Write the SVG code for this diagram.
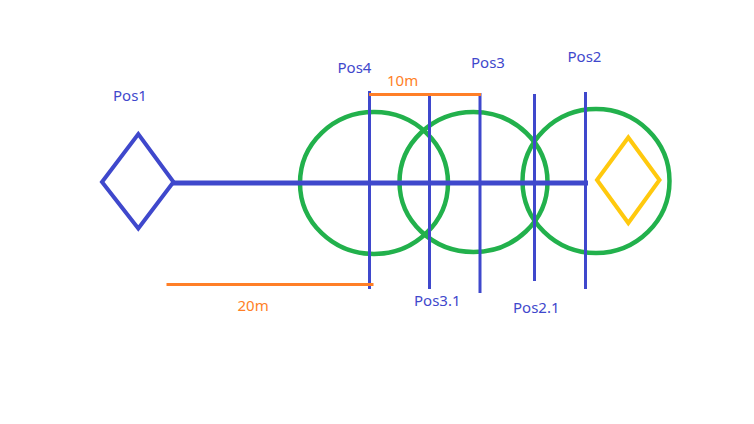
<svg xmlns="http://www.w3.org/2000/svg" width="754" height="424" viewBox="0 0 754 424">
<style>
.bl{stroke:#3F48CC;fill:none}
.gr{stroke:#22B14C;stroke-width:4.5;fill:none}
.or{stroke:#FF7F27;stroke-width:3;fill:none}
.t{font-family:"Noto Sans","Open Sans",sans-serif;font-size:15px}
.tb{fill:#3F48CC}
.to{fill:#FF7F27}
</style>
<rect width="754" height="424" fill="#ffffff"/>
<g id="circles">
<ellipse id="circle1" class="gr" cx="374" cy="183" rx="74" ry="71"/>
<ellipse id="circle2" class="gr" cx="473.5" cy="182" rx="74" ry="70"/>
<ellipse id="circle3" class="gr" cx="596" cy="181" rx="73.5" ry="72"/>
</g>
<g id="connectors">
<line class="bl" x1="173" y1="183" x2="588" y2="183" stroke-width="5"/>
<line class="bl" x1="369.5" y1="91" x2="369.5" y2="289" stroke-width="3"/>
<line class="bl" x1="429.5" y1="95" x2="429.5" y2="289" stroke-width="3"/>
<line class="bl" x1="480" y1="93" x2="480" y2="293" stroke-width="3"/>
<line class="bl" x1="534.5" y1="94" x2="534.5" y2="281" stroke-width="3"/>
<line class="bl" x1="585.5" y1="92" x2="585.5" y2="289" stroke-width="3"/>
<line class="or" x1="369" y1="94.5" x2="481" y2="94.5"/>
<line class="or" x1="166.5" y1="284.5" x2="373.5" y2="284.5"/>
</g>
<g id="pos1">
<polygon class="bl" stroke-width="4" points="102,182 138.3,134 173.5,182 138.3,228.5"/>
<text class="t tb" x="113" y="101">Pos1</text>
</g>
<g id="target">
<polygon stroke="#FFC90E" stroke-width="4" fill="none" points="597,180 628.3,137.5 659.5,180 628.3,223"/>
</g>
<g id="labels">
<text class="t tb" x="337.5" y="72.5">Pos4</text>
<text class="t tb" x="471" y="67.5">Pos3</text>
<text class="t tb" x="567.5" y="62">Pos2</text>
<text class="t tb" x="414" y="306">Pos3.1</text>
<text class="t tb" x="513" y="313">Pos2.1</text>
<text class="t to" x="387" y="86">10m</text>
<text class="t to" x="237.5" y="311">20m</text>
</g>
</svg>
